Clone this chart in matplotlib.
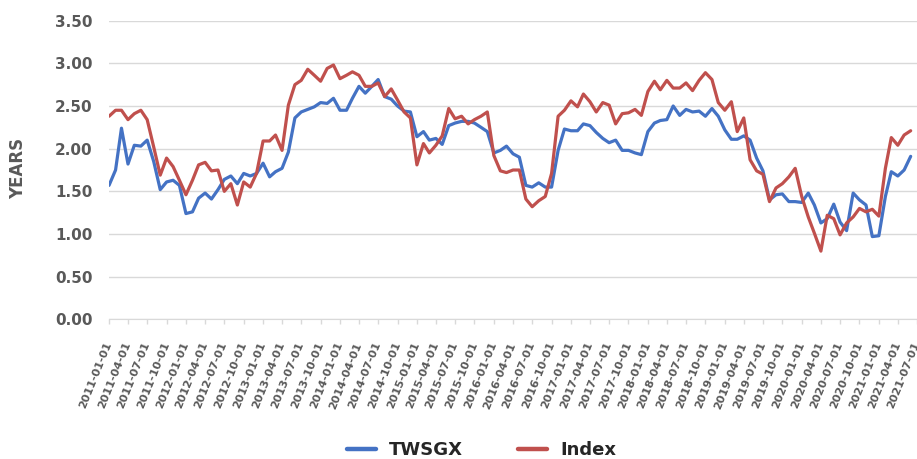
"""
plot.py - duracion (YEARS) TWSGX vs Index, serie mensual 2011-01 .. 2021-06
"""
import matplotlib
matplotlib.use("Agg")
import matplotlib.pyplot as plt
import matplotlib.dates as mdates
import pandas as pd

# valores, un punto por mes desde 2011-01
twsgx = [
    1.57, 1.75, 2.24, 1.82, 2.04, 2.03, 2.10, 1.85, 1.52, 1.61, 1.63, 1.57,
    1.24, 1.26, 1.42, 1.48, 1.41, 1.52, 1.64, 1.68, 1.59, 1.71, 1.68, 1.71,
    1.83, 1.67, 1.73, 1.77, 1.96, 2.36, 2.43, 2.46, 2.49, 2.54, 2.53, 2.59,
    2.45, 2.45, 2.59, 2.73, 2.65, 2.73, 2.81, 2.61, 2.58, 2.50, 2.44, 2.43,
    2.14, 2.20, 2.10, 2.12, 2.05, 2.27, 2.30, 2.32, 2.32, 2.30, 2.25, 2.20,
    1.95, 1.98, 2.03, 1.94, 1.90, 1.57, 1.55, 1.60, 1.55, 1.55, 1.98, 2.23,
    2.21, 2.21, 2.29, 2.27, 2.19, 2.12, 2.07, 2.10, 1.98, 1.98, 1.95, 1.93,
    2.20, 2.30, 2.33, 2.34, 2.50, 2.39, 2.46, 2.43, 2.44, 2.38, 2.47, 2.38,
    2.22, 2.11, 2.11, 2.15, 2.10, 1.89, 1.74, 1.40, 1.46, 1.47, 1.38, 1.38,
    1.37, 1.48, 1.34, 1.13, 1.18, 1.35, 1.14, 1.04, 1.48, 1.40, 1.34, 0.97,
    0.98, 1.44, 1.73, 1.68, 1.75, 1.91,
]
index = [
    2.38, 2.45, 2.45, 2.34, 2.41, 2.45, 2.34, 2.02, 1.69, 1.89, 1.79, 1.63,
    1.46, 1.63, 1.81, 1.84, 1.74, 1.75, 1.50, 1.59, 1.34, 1.61, 1.55, 1.71,
    2.09, 2.09, 2.16, 1.98, 2.51, 2.75, 2.80, 2.93, 2.86, 2.79, 2.94, 2.98,
    2.82, 2.86, 2.90, 2.86, 2.73, 2.73, 2.77, 2.61, 2.70, 2.57, 2.43, 2.36,
    1.81, 2.06, 1.95, 2.04, 2.15, 2.47, 2.35, 2.38, 2.29, 2.34, 2.38, 2.43,
    1.92, 1.74, 1.72, 1.75, 1.75, 1.41, 1.32, 1.39, 1.44, 1.71, 2.38, 2.45,
    2.56, 2.49, 2.64, 2.55, 2.43, 2.54, 2.51, 2.29, 2.41, 2.42, 2.46, 2.39,
    2.67, 2.79, 2.69, 2.80, 2.71, 2.71, 2.77, 2.68, 2.80, 2.89, 2.81, 2.54,
    2.45, 2.55, 2.20, 2.36, 1.87, 1.74, 1.70, 1.38, 1.54, 1.59, 1.67, 1.77,
    1.44, 1.20, 1.01, 0.80, 1.22, 1.18, 0.99, 1.13, 1.20, 1.30, 1.26, 1.29,
    1.21, 1.77, 2.13, 2.04, 2.16, 2.21,
]
months = pd.date_range("2011-01-01", periods=len(twsgx), freq="MS")
tick_dates = pd.date_range("2011-01-01", "2021-07-01", freq="3MS")
yticks = [0.0, 0.5, 1.0, 1.5, 2.0, 2.5, 3.0, 3.5]

BLUE = "#4472C4"
RED = "#C0504D"
GRID = "#D9D9D9"
TXT = "#595959"

fig = plt.figure(figsize=(9.17, 4.59), dpi=100)
ax = fig.add_axes([0.1189, 0.3041, 0.8811, 0.651])

ax.plot(months, twsgx, color=BLUE, lw=2.3, label="TWSGX", solid_capstyle="round")
ax.plot(months, index, color=RED, lw=2.3, label="Index", solid_capstyle="round")

ax.set_ylim(0, 3.5)
ax.set_xlim(tick_dates[0], tick_dates[-1])
ax.set_yticks(yticks)
ax.set_yticklabels([f"{v:.2f}" for v in yticks], fontsize=11,
                   fontweight="bold", color=TXT)
ax.set_xticks(tick_dates)
ax.set_xticklabels([d.strftime("%Y-%m-%d") for d in tick_dates],
                   rotation=68, ha="right", va="center",
                   rotation_mode="anchor", fontsize=8,
                   fontweight="bold", color=TXT)
ax.tick_params(axis="y", length=0, pad=12)
ax.tick_params(axis="x", length=3.6, color=GRID, width=1, pad=13)

ax.grid(axis="y", color=GRID, lw=1)
ax.set_axisbelow(True)
for s in ["top", "right", "left"]:
    ax.spines[s].set_visible(False)
ax.spines["bottom"].set_color(GRID)

fig.text(18 / 917, 1 - 168 / 459, "YEARS", rotation=90, ha="center",
         va="center", fontsize=12, fontweight="bold", color=TXT)

leg = fig.legend(loc="center", bbox_to_anchor=(0.525, 0.02), ncol=2,
                 frameon=False, handlelength=1.65, handletextpad=0.72,
                 columnspacing=3.0, prop={"size": 13, "weight": "bold"})
for line in leg.get_lines():
    line.set_linewidth(3.2)
for t in leg.get_texts():
    t.set_color("#262626")

fig.savefig("out.png", dpi=100)
